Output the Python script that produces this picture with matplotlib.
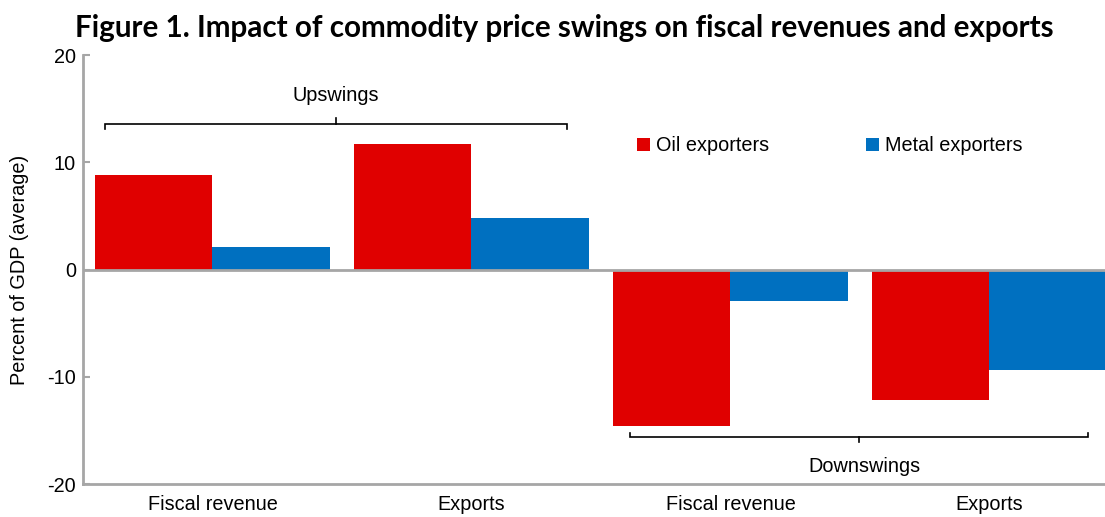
import matplotlib.pyplot as plt
import numpy as np

# Data
categories = ["Fiscal revenue", "Exports", "Fiscal revenue", "Exports"]
oil = [8.8, 11.7, -14.6, -12.2]
metal = [2.1, 4.8, -2.9, -9.4]
series_names = ["Oil exporters", "Metal exporters"]

RED = "#E00000"
BLUE = "#0070C0"
GRAY = "#A6A6A6"
FS = 14.3

plt.rcParams["font.family"] = ["Liberation Sans", "DejaVu Sans"]

fig = plt.figure(figsize=(11.05, 5.17), dpi=100)
ax = fig.add_axes([0.0751, 0.0638, 0.9249, 0.8298])

x = np.arange(len(categories))
w = 0.454
ax.bar(x - w / 2, oil, width=w, color=RED, label=series_names[0], zorder=2)
ax.bar(x + w / 2, metal, width=w, color=BLUE, label=series_names[1], zorder=2)

ax.axhline(0, color=GRAY, linewidth=2, zorder=3)

ax.set_xlim(-0.5, 3.446)
ax.set_ylim(-20, 20)
ax.set_yticks([-20, -10, 0, 10, 20])
ax.set_yticklabels(["-20", "-10", "0", "10", "20"], fontsize=FS)
ax.set_xticks(x)
ax.set_xticklabels(categories, fontsize=FS)
ax.tick_params(axis="x", length=0, pad=8)
ax.tick_params(axis="y", direction="in", length=5, width=1.5, color=GRAY, pad=5)

for s in ["top", "right"]:
    ax.spines[s].set_visible(False)
for s in ["left", "bottom"]:
    ax.spines[s].set_color(GRAY)
    ax.spines[s].set_linewidth(2)

ax.set_ylabel("Percent of GDP (average)", fontsize=FS, labelpad=13)


# Brackets
def bracket(x0, x1, y, tip, end):
    xm = (x0 + x1) / 2
    ax.plot([x0, x0, x1, x1], [end, y, y, end], color="black", lw=1.2, zorder=4,
            solid_joinstyle="miter")
    ax.plot([xm, xm], [y, tip], color="black", lw=1.2, zorder=4)


bracket(x[0] - 0.415, x[1] + 0.369, 13.6, 14.1, 13.1)
ax.text((x[0] - 0.415 + x[1] + 0.369) / 2, 16.2, "Upswings", fontsize=FS,
        ha="center", va="center")
bracket(x[2] - 0.388, x[3] + 0.380, -15.65, -16.1, -15.2)
ax.text((x[2] - 0.388 + x[3] + 0.380) / 2 + 0.02, -18.4, "Downswings", fontsize=FS,
        ha="center", va="center")

ax.legend(loc="center left", bbox_to_anchor=(0.525, 0.788), ncol=2, frameon=False,
          fontsize=FS, handlelength=0.65, handleheight=0.65, handletextpad=0.3,
          columnspacing=4.85)

fig.text(0.068, 0.945, "Figure 1. Impact of commodity price swings on fiscal revenues and exports",
         fontsize=21.35, fontweight="bold", family=["Lato", "DejaVu Sans"],
         ha="left", va="center")

fig.savefig("out.png", dpi=100)
